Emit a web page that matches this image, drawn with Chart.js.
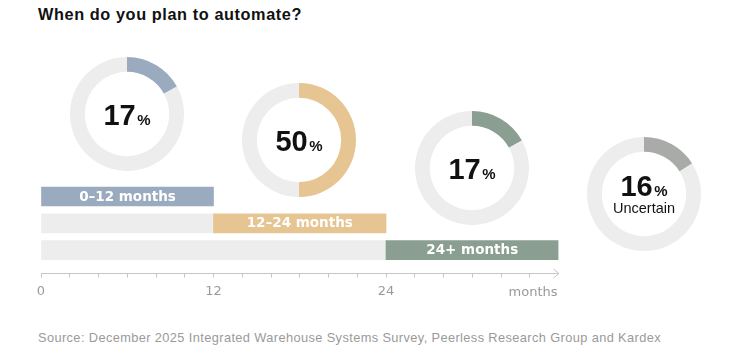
<!DOCTYPE html>
<html><head><meta charset="utf-8">
<script src="https://cdn.jsdelivr.net/npm/chart.js@4.4.1/dist/chart.umd.min.js"></script>
<style>
html,body{margin:0;padding:0;background:#fff;}
body{width:738px;height:357px;position:relative;overflow:hidden;}
#title{position:absolute;left:38px;top:5px;font:bold 16.3px "Liberation Sans",sans-serif;line-height:19px;color:#111;white-space:nowrap;}
#source{position:absolute;left:38px;top:330px;font:12.8px "Liberation Sans Narrow","Liberation Sans",sans-serif;line-height:15px;color:#9a9a9a;white-space:nowrap;}
.wrap{position:absolute;}
canvas{display:block;}
</style></head><body>
<div id="title">When do you plan to automate?</div>
<div class="wrap" style="left:0;top:170px;"><canvas id="bars" width="738" height="135"></canvas></div>
<div class="wrap" style="left:70px;top:57px;"><canvas id="d0" width="114" height="114"></canvas></div>
<div class="wrap" style="left:242px;top:83px;"><canvas id="d1" width="114" height="114"></canvas></div>
<div class="wrap" style="left:415px;top:111px;"><canvas id="d2" width="114" height="114"></canvas></div>
<div class="wrap" style="left:587px;top:137px;"><canvas id="d3" width="114" height="114"></canvas></div>
<div id="source">Source: December 2025 Integrated Warehouse Systems Survey, Peerless Research Group and Kardex</div>
<script>
// ---- data ----
const categories = ['0–12 months', '12–24 months', '24+ months'];
const periodStart = [0, 12, 24];
const periodEnd = [12, 24, 36];
const trackEnd = [null, 12, 24];
const donutLabels = ['0–12 months', '12–24 months', '24+ months', 'Uncertain'];
const donutValues = [17, 50, 17, 16];
const axisTickLabels = [0, 12, 24];
const axisUnit = 'months';

const colors = ['#9aabc0', '#e6c592', '#8a9e92', '#a9aba9'];
const trackColor = '#ededed';
const axisColor = '#c6c6c6';

// fit text widths
function fitWidth(id, target) {
  const s = document.getElementById(id);
  const w = s.getBoundingClientRect().width;
  const n = s.textContent.length;
  s.style.letterSpacing = ((target - w) / n) + 'px';
}
fitWidth('source', 623);
fitWidth('title', 264);

// ---- doughnuts ----
const centerText = {
  id: 'centerText',
  afterDraw(chart, args, opts) {
    const ctx = chart.ctx;
    const arc = chart.getDatasetMeta(0).data[0];
    const x = arc.x, y = arc.y;
    const num = String(chart.data.datasets[0].data[0]);
    ctx.save();
    ctx.fillStyle = '#111';
    ctx.textBaseline = 'alphabetic';
    ctx.textAlign = 'left';
    ctx.font = 'bold 29px "Liberation Sans", sans-serif';
    const w1 = ctx.measureText(num).width;
    ctx.font = 'bold 15px "Liberation Sans", sans-serif';
    const w2 = ctx.measureText('%').width;
    const gap = 1.5;
    const start = x - (w1 + gap + w2) / 2;
    const base = y + (opts.sub ? 2 : 10.5);
    ctx.font = 'bold 29px "Liberation Sans", sans-serif';
    ctx.fillText(num, start, base);
    ctx.font = 'bold 15px "Liberation Sans", sans-serif';
    ctx.fillText('%', start + w1 + gap, base);
    if (opts.sub) {
      ctx.font = '14.5px "Liberation Sans", sans-serif';
      ctx.textAlign = 'center';
      ctx.fillText(opts.sub, x, y + 19);
    }
    ctx.restore();
  }
};

donutValues.forEach((v, i) => {
  new Chart(document.getElementById('d' + i), {
    type: 'doughnut',
    data: {
      labels: [donutLabels[i], ''],
      datasets: [{
        data: [v, 100 - v],
        backgroundColor: [colors[i], trackColor],
        borderWidth: 0
      }]
    },
    options: {
      responsive: false,
      animation: false,
      cutout: '74%',
      layout: { padding: 0 },
      plugins: {
        legend: { display: false },
        tooltip: { enabled: false },
        centerText: { sub: i === 3 ? donutLabels[3] : null }
      }
    },
    plugins: [centerText]
  });
});

// ---- timeline bars ----
const barLabels = {
  id: 'barLabels',
  afterDatasetsDraw(chart) {
    const ctx = chart.ctx;
    const meta = chart.getDatasetMeta(1);
    ctx.save();
    ctx.fillStyle = '#ffffff';
    ctx.font = 'bold 13.5px "DejaVu Sans", sans-serif';
    ctx.textAlign = 'center';
    ctx.textBaseline = 'middle';
    meta.data.forEach((bar, i) => {
      const cx = (bar.x + bar.base) / 2;
      ctx.fillText(categories[i], cx, bar.y + 0.5);
    });
    // arrow + unit
    const xs = chart.scales.x;
    const ax = xs.getPixelForValue(36);
    const ay = xs.top + 0.5;
    ctx.strokeStyle = axisColor;
    ctx.lineWidth = 1;
    ctx.beginPath();
    ctx.moveTo(ax - 5, ay - 4.5);
    ctx.lineTo(ax + 0.5, ay);
    ctx.lineTo(ax - 5, ay + 4.5);
    ctx.stroke();
    ctx.fillStyle = '#9a9a9a';
    ctx.font = '13px "DejaVu Sans", sans-serif';
    ctx.textAlign = 'right';
    ctx.textBaseline = 'middle';
    ctx.fillText(axisUnit, ax - 1, ay + 19);
    ctx.restore();
  }
};

const trackData = [];
categories.forEach((c, i) => { if (trackEnd[i] !== null) trackData.push({ x: [0, trackEnd[i]], y: i }); });

new Chart(document.getElementById('bars'), {
  type: 'bar',
  data: {
    datasets: [
      {
        data: trackData,
        backgroundColor: trackColor,
        barThickness: 19,
        grouped: false,
        order: 2
      },
      {
        data: categories.map((c, i) => ({ x: [periodStart[i], periodEnd[i]], y: i })),
        backgroundColor: colors.slice(0, 3),
        barThickness: 19,
        grouped: false,
        order: 1
      }
    ]
  },
  options: {
    indexAxis: 'y',
    responsive: false,
    animation: false,
    layout: { padding: { left: 41, right: 179.5, top: 13.1, bottom: 7 } },
    plugins: { legend: { display: false }, tooltip: { enabled: false } },
    scales: {
      y: { type: 'linear', reverse: true, min: -0.5, max: 2.85, offset: false, grace: 0, display: false },
      x: {
        type: 'linear', min: 0, max: 36,
        afterBuildTicks: (scale) => {
          const t = [];
          for (let v = 0; v <= 36; v += 2) t.push({ value: v });
          scale.ticks = t;
        },
        afterFit: (scale) => { scale.height = 25; },
        ticks: {
          autoSkip: false, maxRotation: 0, padding: 6,
          color: '#9a9a9a',
          font: { size: 13, family: '"DejaVu Sans", sans-serif' },
          callback: (v) => axisTickLabels.includes(v) ? String(v) : ''
        },
        grid: {
          drawOnChartArea: false, drawTicks: true, tickLength: 4.5,
          color: (c) => (c.tick && c.tick.value === 36) ? 'rgba(0,0,0,0)' : axisColor
        },
        border: { display: true, color: axisColor, width: 1 }
      }
    }
  },
  plugins: [barLabels]
});
</script>
</body></html>
